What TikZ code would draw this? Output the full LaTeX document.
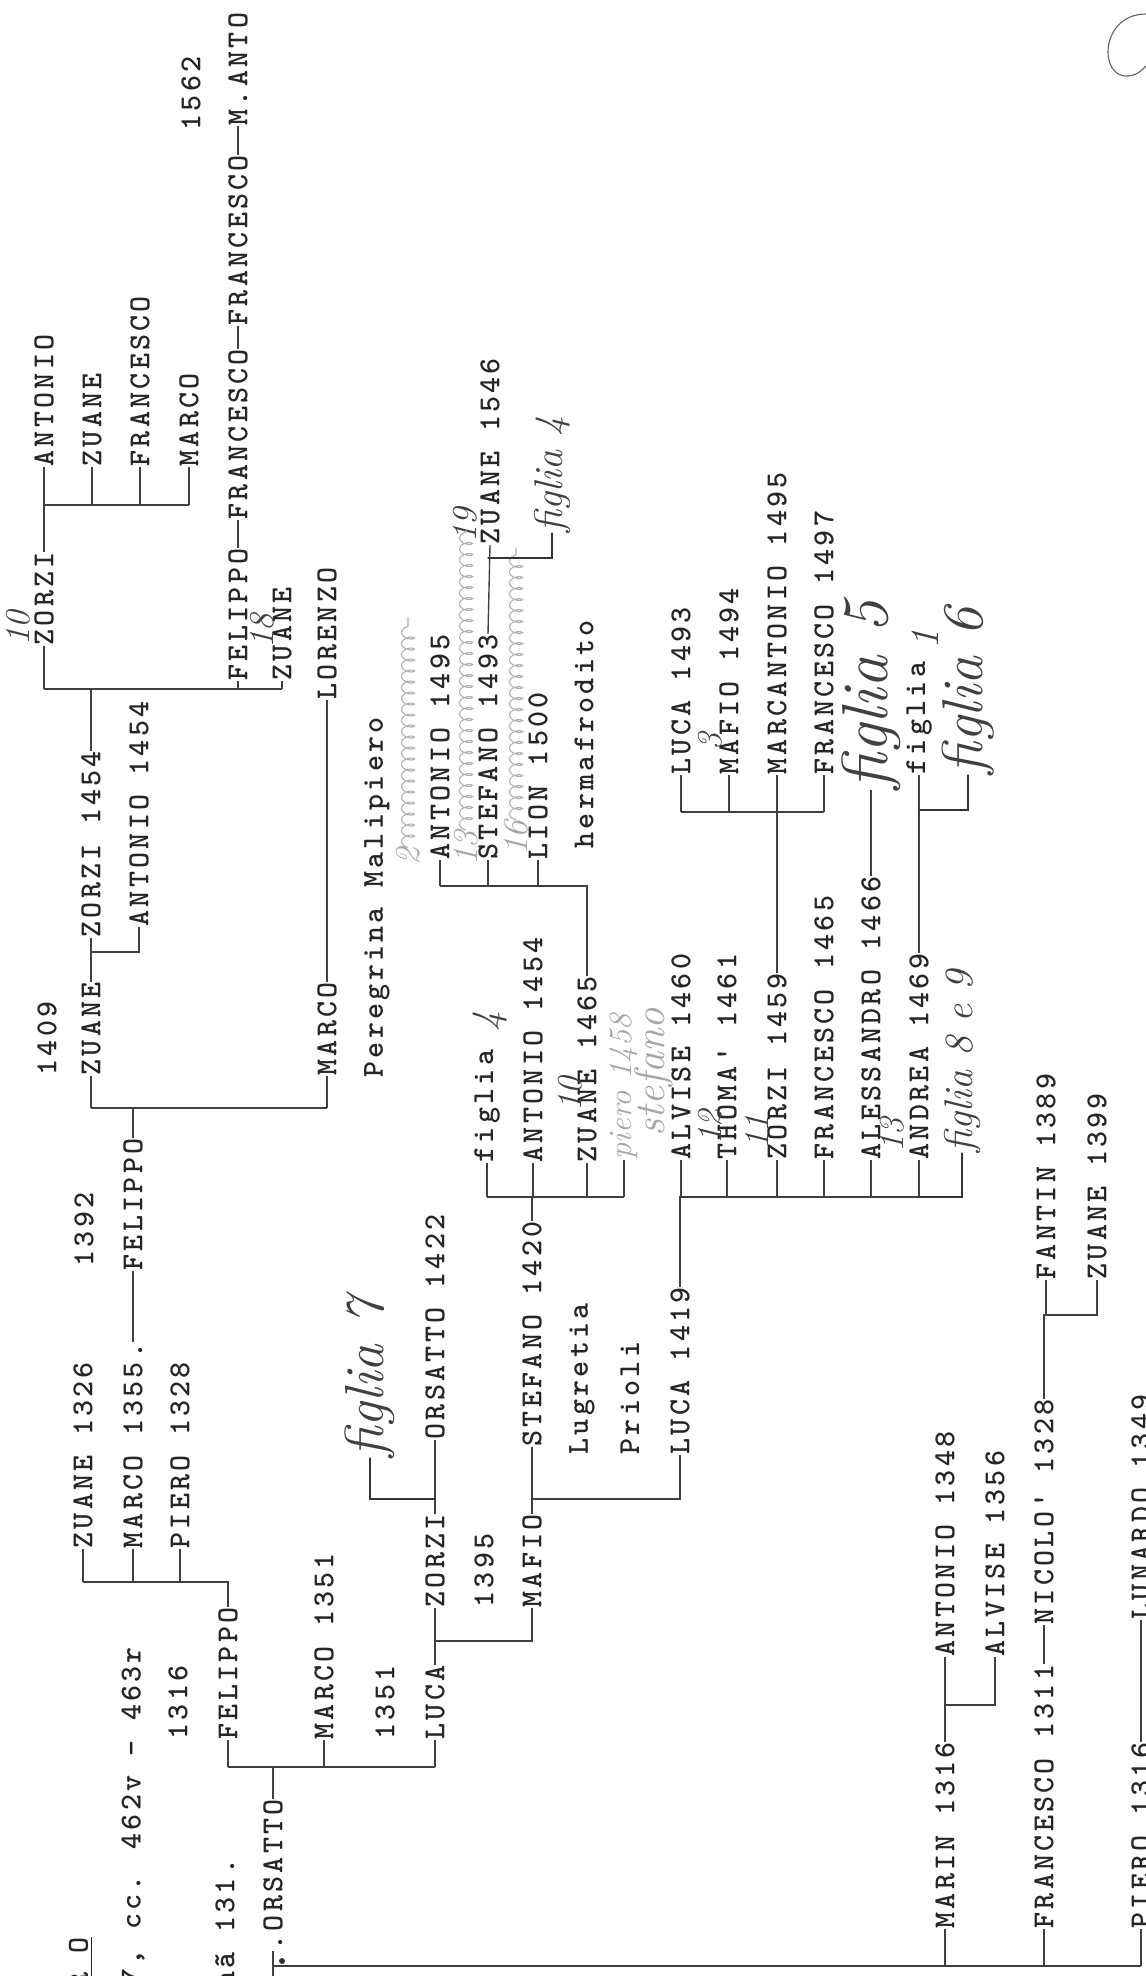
\documentclass[tikz,border=0pt]{standalone}
\usepackage{fontspec}
\newfontfamily\typer{lmmonolt10-bold}[Extension=.otf,LetterSpace=10.8]
\usetikzlibrary{decorations.pathmorphing}

\begin{document}
\begin{tikzpicture}[x=0.4pt,y=-0.4pt,
    nm/.style={rotate=90,anchor=west,inner sep=0pt,text=black!85,
      font=\fontsize{12.2}{13}\typer},
    hw/.style={rotate=90,anchor=west,inner sep=0pt,text=black!75,
      font=\fontsize{#1}{#1}\selectfont\itshape},
    hw/.default=14,
    pc/.style={hw=#1,text=black!35},
    pc/.default=14,
    ln/.style={draw=black!75,line width=0.55pt},
    hand/.style={draw=black!80,line width=0.5pt,line cap=round},
    pencil/.style={draw=black!30,line width=0.45pt}]
\useasboundingbox (0,0) rectangle (1146,1976);
\clip (0,0) rectangle (1146,1976);

% heading, cut at the foot of the sheet
\node[nm] (hdrA) at (81,1989) {\underline{R O}};
\node[nm] (hdrB) at (133,1985) {7, cc. 462v - 463r};
\node[nm] (hdrC) at (225,1988) {nã 131.};

% upper left
\node[nm] (zorA) at (44,646) {ZORZI};
\node[nm] (antA) at (44,467) {ANTONIO};
\node[nm] (zuaA) at (92,467) {ZUANE};
\node[nm] (fraA) at (140,467) {FRANCESCO};
\node[nm] (marA) at (189,467) {MARCO};
\node[nm] (zorB) at (91,938) {ZORZI 1454};
\node[nm] (felC) at (238,681) {FELIPPO};
\node[nm] (fraC) at (238,520) {FRANCESCO};
\node[nm] (fraD) at (238,326) {FRANCESCO};
\node[nm] (manD) at (238,126) {M.ANTO};
\node[nm] (y1562) at (191,131) {1562};
\node[nm] (zuaC) at (282,681) {ZUANE};
\node[nm] (lorC) at (327,700) {LORENZO};
\node[nm] (y1409) at (47,1076) {1409};
\node[nm] (zuaB) at (91,1076) {ZUANE};
\node[nm] (antB) at (139,927) {ANTONIO 1454};
\node[nm] (marB) at (327,1076) {MARCO};
\node[nm] (perB) at (377,1078) {Peregrina Malipiero};
\node[nm] (y1392) at (84,1267) {1392};
\node[nm] (felB) at (133,1271) {FELIPPO};

% lower left
\node[nm] (zua1326) at (83,1549) {ZUANE 1326};
\node[nm] (mar1355) at (133,1549) {MARCO 1355.};
\node[nm] (pie1328) at (180,1549) {PIERO 1328};
\node[nm] (y1316) at (178,1740) {1316};
\node[nm] (fel1316) at (228,1740) {FELIPPO};
\node[nm] (ors) at (273,1951) {.ORSATTO};
\node[nm] (mar1351) at (324,1740) {MARCO 1351};
\node[nm] (y1351) at (385,1740) {1351};
\node[nm] (luc) at (435,1740) {LUCA};
\node[nm] (zor1395) at (435,1608) {ZORZI};
\node[nm] (y1395) at (484,1608) {1395};
\node[nm] (maf) at (532,1608) {MAFIO};
\node[nm] (ors1422) at (435,1440) {ORSATTO 1422};
\node[nm] (ste1420) at (532,1447) {STEFANO 1420};
\node[nm] (lug) at (582,1455) {Lugretia};
\node[nm] (pri) at (630,1455) {Prioli};
\node[nm] (luc1419) at (680,1455) {LUCA 1419};

% middle
\node[nm] (fig1) at (487,1163) {figlia};
\node[nm] (ant1454) at (533,1163) {ANTONIO 1454};
\node[nm] (zua1465) at (587,1163) {ZUANE 1465};
\node[nm] (alv1460) at (681,1160) {ALVISE 1460};
\node[nm] (tho1461) at (727,1160) {THOMA' 1461};
\node[nm] (zor1459) at (777,1160) {ZORZI 1459};
\node[nm] (fra1465) at (824,1160) {FRANCESCO 1465};
\node[nm] (ale1466) at (871,1160) {ALESSANDRO 1466};
\node[nm] (and1469) at (919,1160) {ANDREA 1469};
\node[nm] (ant1495) at (440,860) {ANTONIO 1495};
\node[nm] (ste1493) at (488,860) {STEFANO 1493};
\node[nm] (lio1500) at (538,860) {LION 1500};
\node[nm] (her) at (584,849) {hermafrodito};
\node[nm] (zua1546) at (490,545) {ZUANE 1546};
\node[nm] (luc1493) at (681,775) {LUCA 1493};
\node[nm] (maf1494) at (729,775) {MAFIO 1494};
\node[nm] (mca1495) at (777,775) {MARCANTONIO 1495};
\node[nm] (fra1497) at (824,775) {FRANCESCO 1497};
\node[nm] (fig2) at (919,775) {figlia};

% lower right
\node[nm] (mar1316) at (945,1929) {MARIN 1316};
\node[nm] (ant1348) at (945,1657) {ANTONIO 1348};
\node[nm] (alv1356) at (995,1657) {ALVISE 1356};
\node[nm] (fra1311) at (1044,1929) {FRANCESCO 1311};
\node[nm] (nic1328) at (1044,1625) {NICOLO' 1328};
\node[nm] (fan1389) at (1046,1280) {FANTIN 1389};
\node[nm] (zua1399) at (1097,1280) {ZUANE 1399};
\node[nm] (pie1316) at (1141,1929) {PIERO 1316};
\node[nm] (lun1349) at (1141,1620) {LUNARDO 1349};

% notes in pen
\node[hw] (h10a) at (18,646) {10};
\node[hw] (h18) at (262,649) {18};
\node[hw=22] (hfig7) at (370,1458) {figlia 7};
\node[hw=16] (hfig4) at (552,533) {figlia 4};
\node[hw] (h19) at (465,543) {19};
\node[hw=16] (h4) at (490,1032) {4};
\node[hw] (h10b) at (570,1112) {10};
\node[hw] (h12) at (710,1145) {12};
\node[hw] (h11) at (757,1150) {11};
\node[hw] (h13) at (892,1153) {13};
\node[hw] (h3) at (710,751) {3};
\node[hw=26] (hfig5) at (871,790) {figlia 5};
\node[hw=16] (h1) at (925,650) {1};
\node[hw=23] (hfig6) at (968,775) {figlia 6};
\node[hw=16] (hfig89) at (962,1153) {figlia 8 e 9};

% notes in pencil
\node[pc=13] (ppie) at (624,1160) {piero 1458};
\node[pc=17] (pste) at (654,1137) {stefano};
\node[pc] (p2) at (408,866) {2};
\node[pc] (p13) at (466,866) {13};
\node[pc] (p16) at (516,856) {16};
\draw[pencil,decorate,decoration={coil,amplitude=2.6pt,segment length=4.4pt}]
  (p2.east) -- (p2.east |- 0,617);
\draw[pencil,decorate,decoration={coil,amplitude=2.6pt,segment length=4.4pt}]
  (p13.east) -- (p13.east |- 0,530);
\draw[pencil,decorate,decoration={coil,amplitude=2.6pt,segment length=4.4pt}]
  (p16.east) -- (p16.east |- 0,548);

% ZORZI and his sons
\coordinate (bA) at (0,505);
\draw[ln] (zorA.east) -- (zorA.east |- bA) (antA.west |- bA) -- (marA.west |- bA);
\foreach \c in {antA,zuaA,fraA,marA} \draw[ln] (\c.west) -- (\c.west |- bA);

% ZORZI 1454
\coordinate (bB) at (0,689);
\draw[ln] (zorB.east) -- (zorB.east |- bB) (zorA.west |- bB) -- (zuaC.west |- bB);
\foreach \c in {zorA,felC,zuaC} \draw[ln] (\c.west) -- (\c.west |- bB);
\draw[ln] (felC.east) -- (fraC.west) (fraC.east) -- (fraD.west) (fraD.east) -- (manD.west);

% ZUANE 1409
\coordinate (bC) at (0,952);
\draw[ln] (zuaB.east) -- (zuaB.east |- bC) -- (antB.west |- bC) -- (antB.west);
\draw[ln] (zorB.west) -- (zorB.west |- bC);
\draw[ln] (marB.east) -- (lorC.west);

% FELIPPO 1392
\coordinate (bD) at (0,1108);
\draw[ln] (felB.east) -- (felB.east |- bD) (zuaB.west |- bD) -- (marB.west |- bD);
\foreach \c in {zuaB,marB} \draw[ln] (\c.west) -- (\c.west |- bD);
\draw[ln] (mar1355.east) -- (felB.west);

% FELIPPO
\coordinate (bE) at (0,1582);
\draw[ln] (fel1316.east) -- (fel1316.east |- bE) -- (zua1326.west |- bE);
\foreach \c in {zua1326,mar1355,pie1328} \draw[ln] (\c.west) -- (\c.west |- bE);

% ORSATTO
\coordinate (bF) at (0,1767);
\draw[ln] (ors.east) -- (ors.east |- bF) (fel1316.west |- bF) -- (luc.west |- bF);
\foreach \c in {fel1316,mar1351,luc} \draw[ln] (\c.west) -- (\c.west |- bF);

% LUCA
\coordinate (bG) at (0,1641);
\draw[ln] (luc.east) -- (luc.east |- bG) -- (maf.west |- bG) -- (maf.west);
\draw[ln] (zor1395.west) -- (zor1395.west |- bG);
\draw[ln] (zor1395.east) -- (ors1422.west);
\draw[hand] (zor1395.east |- 0,1499) -| (hfig7.west);

% MAFIO
\coordinate (bH) at (0,1499);
\draw[ln] (maf.east) -- (maf.east |- bH) -- (luc1419.west |- bH) -- (luc1419.west);
\draw[ln] (ste1420.west) -- (ste1420.west |- bH);

% STEFANO 1420 and LUCA 1419
\coordinate (bI) at (0,1197);
\draw[ln] (ste1420.east) -- (ste1420.east |- bI) (fig1.west |- bI) -- (ppie.west |- bI);
\foreach \c in {fig1,ant1454,zua1465,ppie} \draw[ln] (\c.west) -- (\c.west |- bI);
\draw[ln] (luc1419.east) -- (luc1419.east |- bI) -- (and1469.west |- bI);
\foreach \c in {alv1460,tho1461,zor1459,fra1465,ale1466,and1469}
  \draw[ln] (\c.west) -- (\c.west |- bI);
\draw[hand] (and1469.west |- bI) -| (hfig89.west);
\draw[ln] (and1469.east) -- (fig2.west);
\draw[hand] (and1469.east |- 0,810) -| (hfig6.west);
\draw[ln] (ale1466.east) -- (hfig5.west);

% ZUANE 1465
\coordinate (bJ) at (0,886);
\draw[ln] (zua1465.east) -- (zua1465.east |- bJ) -- (ant1495.west |- bJ);
\foreach \c in {ant1495,ste1493,lio1500} \draw[ln] (\c.west) -- (\c.west |- bJ);
\draw[ln] (ste1493.east) -- (zua1546.west);
\draw[hand] (ste1493.east |- 0,558) -| (hfig4.west);

% ZORZI 1459
\coordinate (bK) at (0,812);
\draw[ln] (zor1459.east) -- (zor1459.east |- bK) (luc1493.west |- bK) -- (fra1497.west |- bK);
\foreach \c in {luc1493,maf1494,mca1495,fra1497} \draw[ln] (\c.west) -- (\c.west |- bK);

% stem at the foot
\coordinate (bT) at (0,1966);
\draw[ln] (ors.west) -- (ors.west |- 0,1976) (ors.west |- bT) -- (pie1316.west |- bT);
\foreach \c in {mar1316,fra1311,pie1316} \draw[ln] (\c.west) -- (\c.west |- bT);
\fill[black!80] (282,1961) circle (1.2pt);

% MARIN, FRANCESCO, PIERO
\coordinate (bL) at (0,1705);
\draw[ln] (mar1316.east) -- (mar1316.east |- bL) -- (alv1356.west |- bL) -- (alv1356.west);
\draw[ln] (ant1348.west) -- (ant1348.west |- bL);
\draw[ln] (fra1311.east) -- (nic1328.west);
\coordinate (bM) at (0,1315);
\draw[ln] (nic1328.east) -- (nic1328.east |- bM) -- (zua1399.west |- bM) -- (zua1399.west);
\draw[ln] (fan1389.west) -- (fan1389.west |- bM);
\draw[ln] (pie1316.east) -- (lun1349.west);

% mark in the corner
\draw[pencil,draw=black!60] (1146,14) .. controls (1100,14) and (1098,78) .. (1128,76)
  .. controls (1138,75) and (1142,70) .. (1146,66);
\end{tikzpicture}
\end{document}
